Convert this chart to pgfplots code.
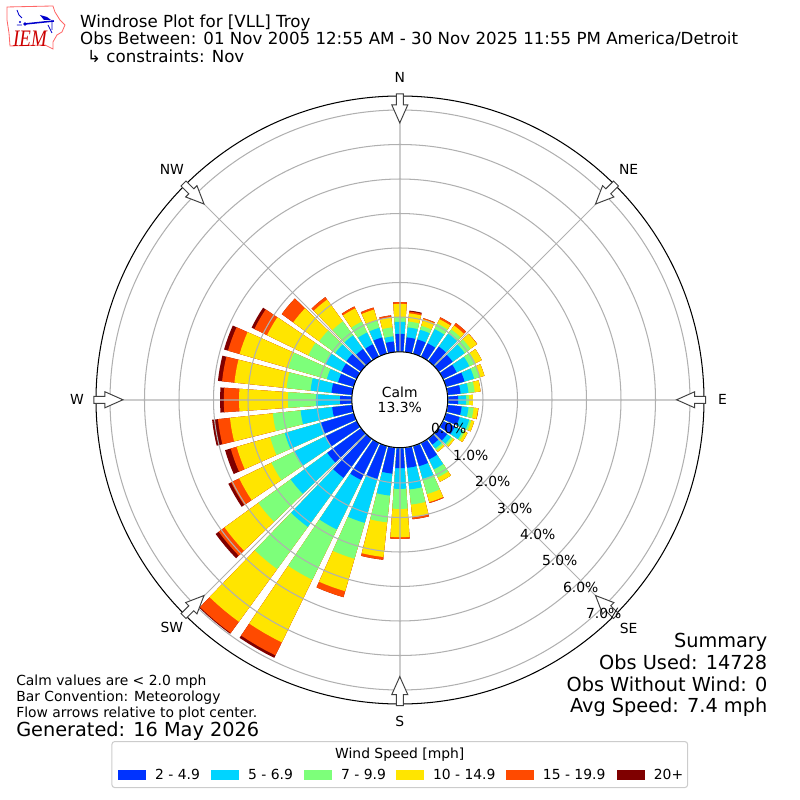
\documentclass[border=0pt]{standalone}
\usepackage{fontspec}
\setmainfont{DejaVu Sans}
\newfontfamily\logofont{Liberation Serif}
\usepackage{graphicx}
\usepackage{pgfplots}
\pgfplotsset{compat=1.18}
\usepgfplotslibrary{polar}
\definecolor{c1}{HTML}{0033FF}
\definecolor{c2}{HTML}{00D4FF}
\definecolor{c3}{HTML}{7DFF7A}
\definecolor{c4}{HTML}{FFE500}
\definecolor{c5}{HTML}{FF4A00}
\definecolor{c6}{HTML}{7F0000}
\definecolor{gridc}{HTML}{B0B0B0}
\newcommand\fs[1]{\fontsize{#1bp}{#1bp}\selectfont}
% one nested wedge: direction, cumulative percent, colour
\newcommand\W[3]{%
  \pgfmathsetmacro\aa{#1-4}\pgfmathsetmacro\ab{#1-2}%
  \pgfmathsetmacro\ac{#1+2}\pgfmathsetmacro\ad{#1+4}%
  \edef\tmp{\noexpand\addplot[fill=#3,draw=none,forget plot] coordinates {(\aa,0)(#1,0)(\ad,0)(\ad,#2)(\ac,#2)(#1,#2)(\ab,#2)(\aa,#2)} -- cycle;}\tmp}
% direction, cumulative percent at the top of each speed class
\newcommand\D[7]{\W{#1}{#7}{c6}\W{#1}{#6}{c5}\W{#1}{#5}{c4}\W{#1}{#4}{c3}\W{#1}{#3}{c2}\W{#1}{#2}{c1}}
\begin{document}
\begin{tikzpicture}
\path[use as bounding box] (0,0) rectangle (8in,8in);
\begin{polaraxis}[
  at={(4in,4in)},anchor=center,
  scale only axis,width=6.08in,height=6.08in,
  xmin=0,xmax=360,ymin=0,ymax=8.812,
  x filter/.code={\pgfmathparse{90-#1}},
  y filter/.code={\pgfmathparse{#1+1.406}},
  xtick={0,45,...,315},xticklabels={},
  ytick={2.406,3.406,4.406,5.406,6.406,7.406,8.406},yticklabels={},
  tick style={draw=none},
  grid=both,
  major grid style={draw=gridc,line width=0.75pt},
  separate axis lines,
  x axis line style={black,line width=0.75pt},
  y axis line style={draw=none},
  axis on top,clip=false,
]
\D{10}{.42}{.71}{.88}{1.12}{1.17}{1.20}
\D{20}{.42}{.71}{.83}{1.03}{1.06}{1.06}
\D{30}{.42}{.88}{1.06}{1.20}{1.26}{1.26}
\D{40}{.51}{.97}{1.12}{1.26}{1.35}{1.35}
\D{50}{.48}{.91}{1.12}{1.35}{1.36}{1.36}
\D{60}{.42}{.83}{1.03}{1.23}{1.23}{1.23}
\D{70}{.54}{.83}{1.00}{1.14}{1.14}{1.14}
\D{80}{.36}{.59}{.77}{.94}{.94}{.94}
\D{90}{.28}{.51}{.59}{.71}{.71}{.71}
\D{100}{.39}{.59}{.74}{.87}{.88}{.88}
\D{110}{.39}{.68}{.74}{.83}{.83}{.83}
\D{120}{.36}{.62}{.68}{.77}{.77}{.77}
\D{130}{.28}{.42}{.48}{.54}{.54}{.54}
\D{140}{.19}{.33}{.39}{.45}{.45}{.45}
\D{150}{.51}{.83}{1.09}{1.23}{1.23}{1.23}
\D{160}{.59}{.97}{1.43}{1.67}{1.70}{1.70}
\D{170}{.57}{1.20}{1.64}{2.01}{2.07}{2.07}
\D{180}{.57}{1.17}{1.75}{2.57}{2.62}{2.62}
\D{190}{.74}{1.38}{2.16}{3.17}{3.25}{3.25}
\D{200}{.97}{2.30}{3.38}{4.36}{4.54}{4.54}
\D{210}{1.17}{2.77}{4.39}{6.41}{6.83}{6.91}
\D{220}{1.38}{3.14}{4.65}{6.54}{6.94}{6.97}
\D{230}{1.20}{2.51}{3.67}{4.88}{5.09}{5.20}
\D{240}{1.00}{2.01}{2.74}{3.78}{4.04}{4.13}
\D{250}{.97}{2.07}{2.51}{3.52}{3.70}{3.87}
\D{260}{.57}{1.49}{2.30}{3.55}{3.90}{4.07}
\D{270}{.33}{1.03}{1.84}{3.26}{3.70}{3.81}
\D{280}{.59}{1.20}{1.90}{3.42}{3.78}{3.90}
\D{290}{.46}{.80}{1.96}{3.43}{3.78}{3.90}
\D{300}{.48}{1.00}{1.55}{2.88}{3.29}{3.38}
\D{310}{.51}{.91}{1.49}{2.42}{2.83}{2.83}
\D{320}{.42}{.91}{1.41}{2.19}{2.28}{2.28}
\D{330}{.39}{.77}{1.12}{1.55}{1.61}{1.61}
\D{340}{.48}{.77}{1.00}{1.32}{1.38}{1.38}
\D{350}{.30}{.45}{.71}{1.00}{1.06}{1.06}
\D{360}{.51}{.86}{1.00}{1.38}{1.43}{1.43}
\end{polaraxis}
\begin{scope}[shift={(0,8in)},x=0.01in,y=-0.01in]
% calm circle
\filldraw[fill=white,draw=black,line width=0.75pt] (400,400) circle[radius=48];
\node[font=\fs{10},inner sep=0,anchor=base] at (400,397.5) {Calm};
\node[font=\fs{10},inner sep=0,anchor=base] at (400,413) {13.3\%};
% flow arrows
\foreach \r in {0,45,...,315}{
  \begin{scope}[rotate around={\r:(400,400)}]
  \filldraw[fill=white,draw=black!75,line width=0.7pt]
    (396.5,94)--(403.5,94)--(403.5,105)--(408,105)--(400,123)--(392,105)--(396.5,105)--cycle;
  \end{scope}}
% compass labels
\foreach \x/\y/\t in {400/77/N,629/170/NE,723/400/E,629/629/SE,400/722/S,172/628/SW,77/400/W,172/170/NW}
  \node[font=\fs{10},inner sep=0] at (\x,\y) {\t};
% radial labels
\foreach \x/\y/\t in {449/429/0.0,471/456/1.0,493/482/2.0,515/509/3.0,538/535/4.0,560/561/5.0,581/588/6.0,604/614/7.0}
  \node[font=\fs{10},inner sep=0] at (\x,\y) {\t\%};
% titles
\node[anchor=base west,font=\fs{12},inner sep=0] at (80,27.5) {Windrose Plot for [VLL] Troy};
\node[anchor=base west,font=\fs{12},inner sep=0] at (80,45) {Obs Between: 01 Nov 2005 12:55 AM - 30 Nov 2025 11:55 PM America/Detroit};
\node[anchor=base west,font=\fs{12},inner sep=0] at (87,62.5) {↳ constraints: Nov};
% summary
\foreach \y/\t in {647.5/Summary,669.5/Obs Used: 14728,691.5/Obs Without Wind: 0,713/Avg Speed: 7.4 mph}
  \node[anchor=base east,font=\fs{13.9},inner sep=0] at (768,\y) {\t};
\foreach \y/\t in {686/Calm values are < 2.0 mph,702/Bar Convention: Meteorology,718/Flow arrows relative to plot center.}
  \node[anchor=base west,font=\fs{10},inner sep=0] at (16,\y) {\t};
\node[anchor=base west,font=\fs{13.9},inner sep=0] at (16,737) {Generated: 16 May 2026};
% legend
\draw[draw=black!20,fill=white,rounded corners=2pt,line width=0.75pt] (112,742) rectangle (688,788);
\node[font=\fs{10},inner sep=0,anchor=base] at (400,758.5) {Wind Speed [mph]};
\foreach \x/\c/\t in {118/c1/2 - 4.9,211/c2/5 - 6.9,304/c3/7 - 9.9,396/c4/10 - 14.9,506/c5/15 - 19.9,617/c6/20+}{
  \fill[\c] (\x,770) rectangle ++(28,10);
  \node[anchor=base west,font=\fs{10},inner sep=0] at (\x+37,780) {\t};}
% logo
\draw[red!60,line width=0.6pt] (7,7)--(53,6)--(55,12)--(60,20)--(65,25)--(62,32)--(57,35)--(53,42)--(53,49)--(45,45)--(10,46)--(9,33)--(7,20)--cycle;
\draw[blue!80!black,line width=1.1pt] (25,24)--(54,21);
\draw[blue!80!black,line width=0.6pt] (17,10)--(19,15)--(22,18) (48,25)--(50,29)--(52,33) (52,20)--(52,30) (17,25)--(22,25);
\fill[blue!80!black] (25,24) circle[radius=1.8] (40,15)--(47,17)--(51,20)--(44,20)--cycle (20,22) circle[radius=1.2];
\node[font=\logofont\itshape\fs{17},text=red!80!black,inner sep=0] at (30,39) {\scalebox{0.8}[1]{IEM}};
\end{scope}
\end{tikzpicture}
\end{document}
